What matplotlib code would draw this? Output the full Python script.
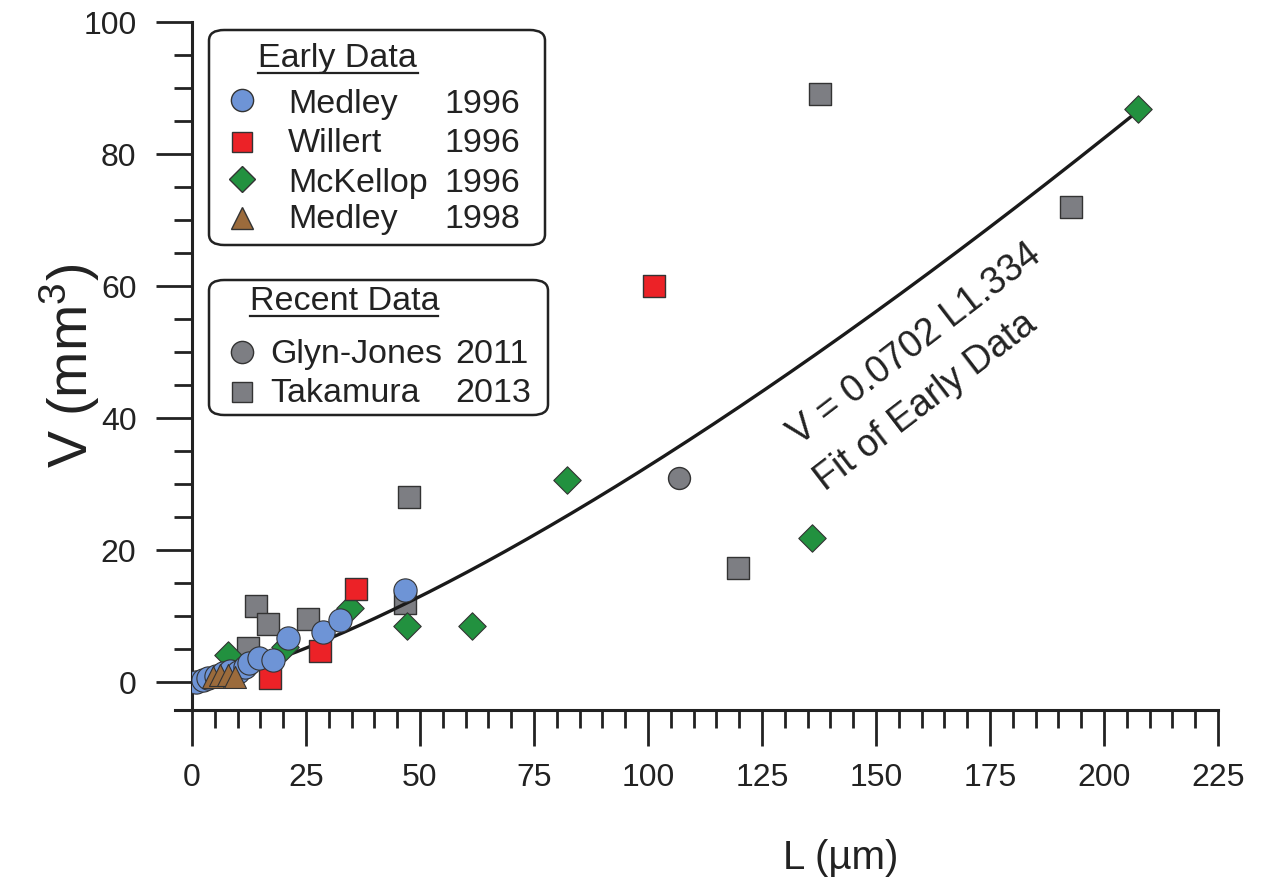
import numpy as np
import matplotlib.pyplot as plt
from matplotlib.patches import FancyBboxPatch

plt.rcParams['font.family'] = ['Liberation Sans', 'DejaVu Sans']
plt.rcParams['mathtext.fontset'] = 'custom'
plt.rcParams['mathtext.rm'] = 'Liberation Sans'

# early data
medley96_L = [0.9, 2.4, 3.5, 5.3, 6.8, 8.3, 10.1, 11.6, 12.6, 14.8, 17.8, 21.0, 28.8, 32.5, 46.7]
medley96_V = [0.0, 0.3, 0.6, 0.9, 1.4, 1.6, 1.5, 2.3, 2.9, 3.6, 3.3, 6.7, 7.6, 9.4, 13.9]
willert_L = [17.0, 28.0, 36.0, 101.3]
willert_V = [0.6, 4.7, 14.1, 60.0]
mckellop_L = [7.9, 20.3, 34.6, 47.1, 61.4, 82.2, 136.0, 207.5]
mckellop_V = [4.1, 5.3, 11.2, 8.5, 8.5, 30.6, 21.8, 86.8]
medley98_L = [4.6, 6.1, 7.9, 9.4]
medley98_V = [0.8, 1.1, 1.1, 0.8]

# recent data
glyn_L = [106.8]
glyn_V = [30.9]
takamura_L = [12.3, 14.0, 16.7, 25.4, 46.7, 47.6, 119.7, 137.7, 192.8]
takamura_V = [5.1, 11.5, 8.8, 9.5, 12.0, 28.0, 17.3, 89.1, 72.0]

# fit of early data: V = a * L^b
fit_a = 0.0702
fit_b = 1.334
fit_Lmax = 207.5

blue = '#6e94d6'
red = '#ec2227'
green = '#22913f'
brown = '#9b6b3c'
gray = '#7d7e83'
edge = '#333333'

fig = plt.figure(figsize=(12.63, 8.85), dpi=100)
ax = fig.add_axes([0.152, 0.1977, 0.8124, 0.7774])

ax.scatter(takamura_L, takamura_V, marker='s', s=235, c=gray, edgecolors=edge, linewidths=1, zorder=2)
ax.scatter(glyn_L, glyn_V, marker='o', s=250, c=gray, edgecolors=edge, linewidths=1, zorder=2)

L = np.linspace(0, fit_Lmax, 300)
ax.plot(L, fit_a * L ** fit_b, color='#1a1a1a', lw=2.4, zorder=3)

ax.scatter(mckellop_L, mckellop_V, marker='D', s=195, c=green, edgecolors=edge, linewidths=0.8, zorder=4)
ax.scatter(willert_L, willert_V, marker='s', s=235, c=red, edgecolors=edge, linewidths=1, zorder=5)
ax.scatter(medley96_L, medley96_V, marker='o', s=280, c=blue, edgecolors=edge, linewidths=0.8, zorder=6)
ax.scatter(medley98_L, medley98_V, marker='^', s=250, c=brown, edgecolors=edge, linewidths=0.8, zorder=7)

ax.set_xlim(0, 225)
ax.set_ylim(-4.24, 100)
ax.set_xticks(np.arange(0, 226, 25))
ax.set_xticks(np.arange(0, 226, 5), minor=True)
ax.set_yticks(np.arange(0, 101, 20))
ax.set_yticks(np.arange(0, 101, 5), minor=True)
for s in ['top', 'right']:
    ax.spines[s].set_visible(False)
for s in ['left', 'bottom']:
    ax.spines[s].set_linewidth(2.2)
    ax.spines[s].set_color('#222222')
ax.tick_params(which='major', length=26, width=2.0, color='#222222', labelsize=23, labelcolor='#222222')
ax.tick_params(which='minor', length=13, width=2.0, color='#222222')
ax.tick_params(axis='y', pad=14)
ax.tick_params(axis='x', pad=12)
ax.plot([-0.0166, 0], [0, 0], transform=ax.transAxes, clip_on=False, color='#222222', lw=2.2)

ax.set_xlabel('L (\u00b5m)', fontsize=29, color='#222222')
ax.xaxis.set_label_coords(0.632, -0.215)
ax.xaxis.label.set_va('center')
ax.set_ylabel('V (mm$^{3}$)', fontsize=40, color='#222222')
ax.yaxis.set_label_coords(-0.119, 0.5)
ax.yaxis.label.set_va('center')

ax.text(158.5, 51.1, 'V = 0.0702 L1.334', fontsize=27, rotation=37.5, color='#222222',
        rotation_mode='anchor', ha='center', va='center')
ax.text(161.0, 42.5, 'Fit of Early Data', fontsize=27, rotation=37.5, color='#222222',
        rotation_mode='anchor', ha='center', va='center')

# legend boxes drawn by hand (figure pixels -> fraction)
W, H = 1263.0, 885.0
LFS = 24.5


def fx(px):
    return px / W


def fy(py):
    return 1 - py / H


def box(x0, y0, x1, y1):
    p = FancyBboxPatch((fx(x0), fy(y1)), fx(x1) - fx(x0), fy(y0) - fy(y1),
                       boxstyle='round,pad=0,rounding_size=0.012',
                       transform=fig.transFigure, facecolor='white',
                       edgecolor='#222222', lw=1.8, zorder=10)
    fig.add_artist(p)


def title(txt, x0, x1, base):
    fig.text(fx(x0), fy(base), txt, fontsize=LFS, va='baseline', ha='left', zorder=11, color='#222222')
    fig.add_artist(plt.Line2D([fx(x0), fx(x1)], [fy(base + 6), fy(base + 6)],
                              transform=fig.transFigure, color='#222222', lw=1.6, zorder=11))


def row(marker, color, ms, name, year, ymark, base, xname, xyear):
    fig.add_artist(plt.Line2D([fx(242)], [fy(ymark)], marker=marker, ms=ms,
                              markerfacecolor=color, markeredgecolor=edge, mew=1,
                              linestyle='none', transform=fig.transFigure, zorder=11))
    fig.text(fx(xname), fy(base), name, fontsize=LFS, va='baseline', ha='left', zorder=11, color='#222222')
    fig.text(fx(xyear), fy(base), year, fontsize=LFS, va='baseline', ha='left', zorder=11, color='#222222')


box(209, 30, 545, 245)
title('Early Data', 258, 418, 67)
row('o', blue, 16, 'Medley', '1996', 100, 113, 288, 444)
row('s', red, 15, 'Willert', '1996', 142, 152, 288, 444)
row('D', green, 13.5, 'McKellop', '1996', 179, 192, 288, 444)
row('^', brown, 16, 'Medley', '1998', 218, 228, 288, 444)

box(209, 280, 548, 415)
title('Recent Data', 250, 438, 310)
row('o', gray, 16, 'Glyn-Jones', '2011', 352, 363, 270, 455)
row('s', gray, 15, 'Takamura', '2013', 392, 402, 270, 455)

fig.savefig('out.png', dpi=100)
